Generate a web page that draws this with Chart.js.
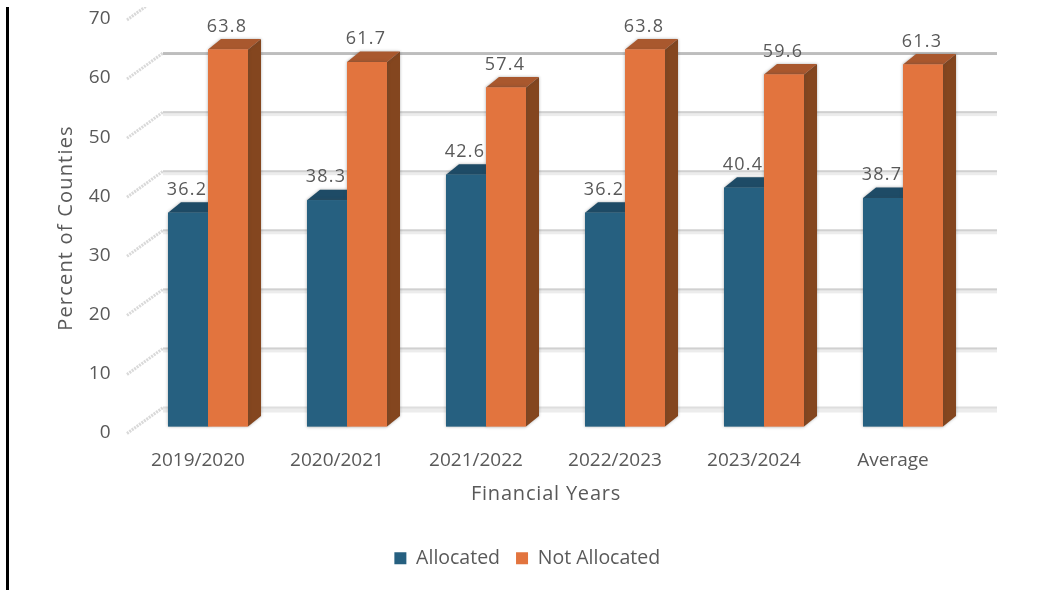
<!DOCTYPE html>
<html>
<head>
<meta charset="utf-8">
<script src="https://cdn.jsdelivr.net/npm/chart.js@4"></script>
<style>
  body { margin: 0; background: #fff; }
  #wrap { position: relative; width: 1038px; height: 590px; overflow: hidden; }
  #rule { position: absolute; left: 6px; top: 7px; width: 3px; bottom: 0; background: #000; }
</style>
</head>
<body>
<div id="wrap">
  <canvas id="chart" width="1038" height="590"></canvas>
  <div id="rule"></div>
</div>
<script>
const years = ['2019/2020', '2020/2021', '2021/2022', '2022/2023', '2023/2024', 'Average']
const allocated = [36.2, 38.3, 42.6, 36.2, 40.4, 38.7]
const notAllocated = [63.8, 61.7, 57.4, 63.8, 59.6, 61.3]
const yTicks = [0, 10, 20, 30, 40, 50, 60, 70]

const textColor = '#595959'
const fontName = '"Open Sans", "Noto Sans", sans-serif'

// how far the extruded bar goes back, and where the wall sits
const barDepth = { x: 13, y: -10.5 }
const wall = { left: 163, right: 997, lift: -19 }

const shadeFront = ['#266080', '#e2743e']
const shadeTop = ['#1e4b66', '#a9582e']
const shadeSide = ['#1b4259', '#84461f']

const poly = (ctx, pts, color) => {
  ctx.beginPath()
  pts.forEach((p, i) => i ? ctx.lineTo(p[0], p[1]) : ctx.moveTo(p[0], p[1]))
  ctx.closePath()
  ctx.fillStyle = color
  ctx.fill()
}

// floor-to-wall strokes on the left and the lines on the back wall
const wallPlugin = {
  id: 'wall',
  beforeDatasetsDraw(chart) {
    const { ctx, scales: { y } } = chart
    ctx.save()
    yTicks.forEach(v => {
      const py = y.getPixelForValue(v)
      ctx.save()
      ctx.beginPath()
      ctx.rect(0, 7, 1038, 583)
      ctx.clip()
      ctx.strokeStyle = '#d9d9d9'
      ctx.lineWidth = 3
      ctx.setLineDash([2, 1])
      ctx.beginPath()
      ctx.moveTo(127, py + 7)
      ctx.lineTo(wall.left, py + wall.lift)
      ctx.stroke()
      ctx.restore()
      if (v < 70) {
        const gy = py + wall.lift
        ctx.fillStyle = '#ececec'
        ctx.fillRect(wall.left, gy, wall.right - wall.left, v === 0 ? 5 : 4)
        ctx.fillStyle = v === 60 ? '#bdbdbd' : (v === 0 ? '#dedede' : '#d0d0d0')
        ctx.fillRect(wall.left, gy - 1, wall.right - wall.left, v === 60 ? 3 : 2)
        if (v === 60) {
          ctx.fillStyle = '#fff'
          ctx.fillRect(wall.left, gy + 2, wall.right - wall.left, 2)
        }
      }
    })
    ctx.restore()
  }
}

// top, side and a soft halo for each bar, all under the fronts Chart.js draws
const extrudePlugin = {
  id: 'extrude',
  beforeDatasetsDraw(chart) {
    const { ctx } = chart
    ctx.save()
    ctx.shadowColor = 'rgba(70,70,70,0.45)'
    ctx.shadowBlur = 3
    chart.data.datasets.forEach((ds, i) => {
      chart.getDatasetMeta(i).data.forEach(bar => {
        const l = bar.x - bar.width / 2
        const r = bar.x + bar.width / 2
        const dx = barDepth.x
        const dy = barDepth.y
        poly(ctx, [[r, bar.y], [r + dx, bar.y + dy], [r + dx, bar.base + dy], [r, bar.base]], shadeSide[i])
        poly(ctx, [[l, bar.y], [l + dx, bar.y + dy], [r + dx, bar.y + dy], [r, bar.y]], shadeTop[i])
        poly(ctx, [[l, bar.y], [r, bar.y], [r, bar.base], [l, bar.base]], shadeFront[i])
      })
    })
    ctx.restore()
  }
}

// value labels above the bars and the two axis titles
const textPlugin = {
  id: 'texts',
  afterDatasetsDraw(chart) {
    const { ctx } = chart
    ctx.save()
    ctx.fillStyle = textColor
    ctx.textAlign = 'center'
    ctx.textBaseline = 'middle'
    ctx.letterSpacing = '1.2px'
    ctx.font = '18px ' + fontName
    chart.data.datasets.forEach((ds, i) => {
      chart.getDatasetMeta(i).data.forEach((bar, k) => {
        ctx.fillText(ds.data[k].toFixed(1), bar.x - 1, bar.y - 23)
      })
    })
    ctx.font = '20px ' + fontName
    ctx.letterSpacing = '0.8px'
    ctx.fillText('Financial Years', 546, 494)
    ctx.letterSpacing = '1.2px'
    ctx.translate(66, 228)
    ctx.rotate(-Math.PI / 2)
    ctx.fillText('Percent of Counties', 0, 0)
    ctx.restore()
  },
  afterLayout(chart) {
    // legend sits right of the plot centre
    chart.legend.left += 41
    chart.legend.right += 41
  }
}

new Chart(document.getElementById('chart'), {
  type: 'bar',
  data: {
    labels: years,
    datasets: [
      { label: 'Allocated', data: allocated, backgroundColor: shadeFront[0] },
      { label: 'Not Allocated', data: notAllocated, backgroundColor: shadeFront[1] }
    ]
  },
  plugins: [wallPlugin, extrudePlugin, textPlugin],
  options: {
    responsive: false,
    animation: false,
    layout: { padding: { top: 13, right: 65.5, left: 0, bottom: 12 } },
    datasets: { bar: { categoryPercentage: 80 / 139, barPercentage: 1 } },
    plugins: {
      tooltip: { enabled: false },
      legend: {
        position: 'bottom',
        labels: {
          boxWidth: 12,
          boxHeight: 12,
          padding: 16,
          color: textColor,
          font: { family: fontName, size: 19.5 }
        }
      }
    },
    scales: {
      x: {
        grid: { display: false },
        border: { display: false },
        afterFit: s => { s.height = 106; s.paddingLeft = 0; s.paddingRight = 0 },
        ticks: {
          color: textColor,
          font: { family: fontName, size: 19 },
          padding: 15,
          labelOffset: -10,
          maxRotation: 0,
          autoSkip: false
        }
      },
      y: {
        min: 0,
        max: 70,
        grid: { display: false },
        border: { display: false },
        afterFit: s => { s.width = 138.5; s.paddingTop = 0; s.paddingBottom = 0 },
        ticks: {
          stepSize: 10,
          color: textColor,
          font: { family: fontName, size: 19 },
          padding: 20,
          labelOffset: 6
        }
      }
    }
  }
})
</script>
</body>
</html>
